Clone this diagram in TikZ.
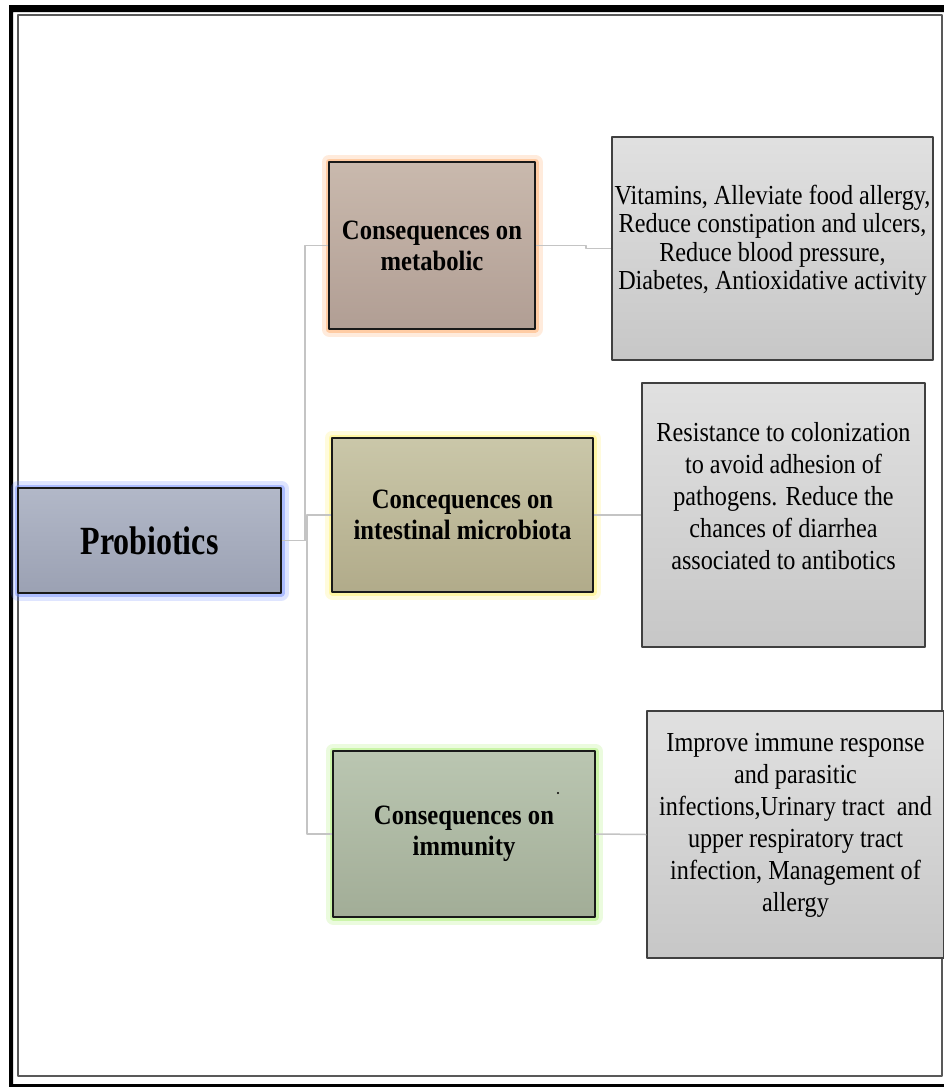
\documentclass[tikz,border=0pt]{standalone}
\usepackage{fontspec}
\setmainfont{Liberation Serif}[FakeStretch=0.88]
\newfontfamily\probfont{Liberation Serif}[FakeStretch=0.8]
\definecolor{probtop}{HTML}{B2B8C8}
\definecolor{probbot}{HTML}{9BA1B3}
\definecolor{probglow}{HTML}{6F8CFF}
\definecolor{metatop}{HTML}{C9B9AD}
\definecolor{metabot}{HTML}{B19E94}
\definecolor{metaglow}{HTML}{FFA860}
\definecolor{intesttop}{HTML}{CAC7A9}
\definecolor{intestbot}{HTML}{B1AB8A}
\definecolor{intestglow}{HTML}{FFF060}
\definecolor{immuntop}{HTML}{BAC6B1}
\definecolor{immunbot}{HTML}{A2AD97}
\definecolor{immunglow}{HTML}{A6EE6A}
\begin{document}
\begin{tikzpicture}[x=1pt,y=-1pt,line join=round,
	box/.style={draw=black!90,line width=1.5pt,align=center,inner sep=0pt,
		font=\fontsize{28}{31}\selectfont\bfseries},
	glow/.style={preaction={draw=#1,line width=15pt,opacity=.22},
		preaction={draw=#1,line width=7pt,opacity=.45}},
	side/.style={draw=black!75,line width=1.5pt,top color=black!12,bottom color=black!22},
	sidetext/.style={align=center,inner sep=0pt},
	link/.style={draw=black!23,line width=1.5pt}]
	\useasboundingbox (0,0) rectangle (944,1087);
	% frame
	\fill[white] (0,0) rectangle (944,1087);
	\fill[black] (9,5) rectangle (950,12) (9,5) rectangle (13,1087) (9,1084) rectangle (950,1090);
	\draw[black!65,line width=1.5pt] (18,15) rectangle (942,1076);
	% boxes
	\node[box,glow=probglow,top color=probtop,bottom color=probbot,minimum width=263,minimum height=105,
		font=\probfont\fontsize{40}{42}\selectfont\bfseries] (prob) at (149.5,540.5) {Probiotics};
	\node[box,glow=metaglow,top color=metatop,bottom color=metabot,minimum width=206,minimum height=167] (meta) at (432,245.5) {Consequences on\\metabolic};
	\node[box,glow=intestglow,top color=intesttop,bottom color=intestbot,minimum width=261,minimum height=154] (intest) at (462.5,515) {Concequences on\\intestinal microbiota};
	\node[box,glow=immunglow,top color=immuntop,bottom color=immunbot,minimum width=262,minimum height=166] (immun) at (464,834) {Consequences on\\immunity};
	\node[side,minimum width=321,minimum height=223] (vit) at (772.5,248.5) {};
	\node[side,minimum width=283,minimum height=264] (resist) at (783.5,515) {};
	\node[side,minimum width=297,minimum height=247] (immune) at (795.5,834.5) {};
	\node[sidetext,font=\fontsize{27.5}{28.5}\selectfont] (vittext) at ([yshift=8pt]vit.center)
		{Vitamins, Alleviate food allergy,\\Reduce constipation and ulcers,\\Reduce blood pressure,\\Diabetes, Antioxidative activity};
	\node[sidetext,font=\fontsize{27.5}{32}\selectfont] (resisttext) at ([yshift=19pt]resist.center)
		{Resistance to colonization\\to avoid adhesion of\\pathogens. Reduce the\\chances of diarrhea\\associated to antibotics};
	\node[sidetext,font=\fontsize{27.5}{32}\selectfont] (immunetext) at ([yshift=9pt]immune.center)
		{Improve immune response\\and parasitic\\infections,Urinary tract~ and\\upper respiratory tract\\infection, Management of\\allergy};
	% links
	\draw[link] (prob.east) -- ++(23,0) |- (meta.west);
	\foreach \b in {intest,immun}{
		\draw[link] (prob.east) -- ++(25,0) |- (\b.west);
	};
	\draw[link] (meta.east) -- ++(50,0) |- (vit.west);
	\draw[link] (intest.east) -- (resist.west);
	\draw[link] (immun.east) -- (immune.west);
	\fill (558,793) circle (1.2);
\end{tikzpicture}
\end{document}
